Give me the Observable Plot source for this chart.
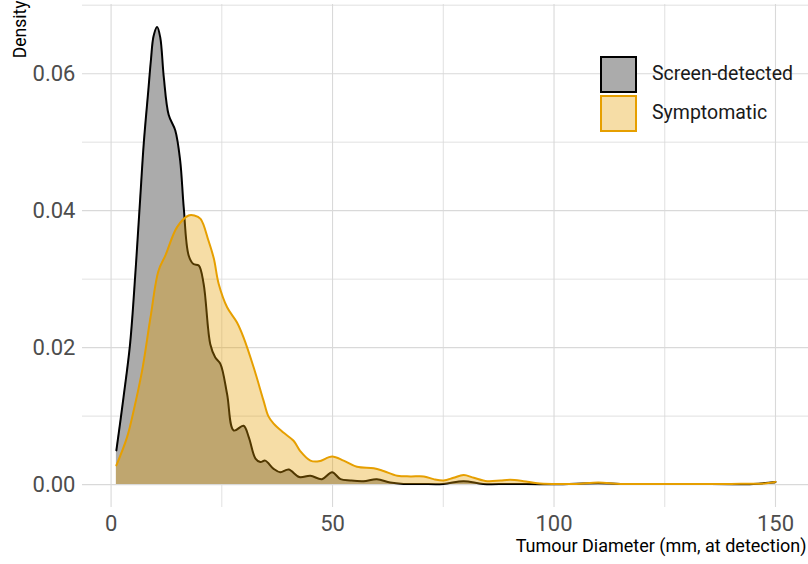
<!DOCTYPE html>
<html>
<head>
<meta charset="utf-8">
<script src="https://cdn.jsdelivr.net/npm/d3@7"></script>
<script src="https://cdn.jsdelivr.net/npm/@observablehq/plot@0.6"></script>
<style>
  body { margin: 0; background: #fff; }
  #wrap { position: relative; width: 808px; height: 564px; font-family: "Roboto", "DejaVu Sans Condensed", sans-serif; }
  .key { position: absolute; left: 600px; box-sizing: content-box; }
  .lab { position: absolute; left: 652px; font-size: 19.5px; color: #1a1a1a; line-height: 20px; }
</style>
</head>
<body>
<div id="wrap"></div>
<script>
const seriesNames = ["Screen-detected", "Symptomatic"];
// Screen-detected density: tumour diameter (mm) and density
const screenX = [1.2, 2.8, 4.3, 5.5, 6.5, 7.4, 8.4, 9.0, 9.6, 10.4, 11.1, 11.9, 13.0, 14.5, 15.6, 16.4, 17.5, 18.6, 19.8, 20.9, 22.4, 23.5, 24.7, 26.2, 27.7, 29.9, 31.1, 32.6, 33.7, 34.8, 36.7, 38.2, 40.1, 42.5, 45, 47.6, 49.9, 51.8, 54, 57, 60, 63, 66, 70, 75, 79.6, 84, 90, 100, 110, 115, 130, 145, 150];
const screenD = [0.0050, 0.0127, 0.0206, 0.0310, 0.0410, 0.0500, 0.0575, 0.0620, 0.0655, 0.0668, 0.0653, 0.0595, 0.0540, 0.0517, 0.0473, 0.0405, 0.0335, 0.0322, 0.0320, 0.0293, 0.0205, 0.0186, 0.0176, 0.0132, 0.0079, 0.0086, 0.0069, 0.0038, 0.0033, 0.0035, 0.0023, 0.0018, 0.0022, 0.0011, 0.0013, 0.0008, 0.0018, 0.0008, 0.0006, 0.0005, 0.0008, 0.0003, 0.0001, 0.0001, 0.0001, 0.0005, 0.0001, 0.0001, 0.00005, 0.0002, 0.0001, 0.0001, 0.0001, 0.0004];
// Symptomatic density
const sympX = [1.2, 3.6, 5.1, 7.0, 8.9, 10.7, 12.3, 14.9, 17.5, 18.8, 20.2, 22.0, 23.2, 24.3, 26.2, 28.4, 29.9, 32.2, 34.4, 35.5, 36.7, 38.9, 41.2, 42.7, 45, 46.9, 49.9, 52.5, 55.5, 59.3, 61.5, 64.6, 67.6, 70.6, 72.8, 75.1, 77.3, 79.6, 81.9, 84.9, 87.9, 90.1, 93.1, 96.2, 100, 105, 110, 115, 125, 140, 148, 150];
const sympD = [0.0028, 0.0069, 0.0108, 0.0166, 0.0244, 0.0312, 0.0335, 0.0376, 0.0393, 0.0393, 0.0388, 0.0356, 0.0330, 0.0293, 0.0259, 0.0237, 0.0215, 0.0171, 0.0123, 0.0100, 0.0089, 0.0076, 0.0064, 0.0049, 0.0035, 0.0034, 0.0041, 0.0035, 0.0026, 0.0024, 0.0020, 0.0013, 0.0012, 0.0012, 0.0008, 0.0006, 0.0010, 0.0014, 0.0010, 0.0005, 0.0006, 0.0007, 0.0005, 0.0002, 0.0001, 0.0001, 0.0003, 0.0001, 0.0001, 0.0001, 0.0002, 0.0004];

const xTicks = [0, 50, 100, 150];
const xMinor = [25, 75, 125];
const yTicks = [0, 0.02, 0.04, 0.06];
const yMinor = [0.01, 0.03, 0.05, 0.07];

const screen = screenX.map((x, i) => ({x, d: screenD[i]}));
const symp = sympX.map((x, i) => ({x, d: sympD[i]}));

const grid = "#d9d9d9";
const chart = Plot.plot({
  width: 808,
  height: 564,
  marginLeft: 82,
  marginRight: 0,
  marginTop: 4,
  marginBottom: 57,
  style: {fontFamily: "Roboto, 'DejaVu Sans Condensed', sans-serif", background: "#fff"},
  x: {domain: [-6.45, 157.45], label: null},
  y: {domain: [-0.00334, 0.0701], label: null},
  marks: [
    Plot.ruleX(xMinor, {stroke: grid, strokeWidth: 0.8}),
    Plot.ruleY(yMinor, {stroke: grid, strokeWidth: 0.8}),
    Plot.ruleX(xTicks, {stroke: grid, strokeWidth: 1.1}),
    Plot.ruleY(yTicks, {stroke: grid, strokeWidth: 1.1}),
    Plot.areaY(screen, {x: "x", y: "d", fill: "#ababab", curve: "catmull-rom"}),
    Plot.line(screen, {x: "x", y: "d", stroke: "#000", strokeWidth: 2, curve: "catmull-rom"}),
    Plot.areaY(symp, {x: "x", y: "d", fill: "#E69F00", fillOpacity: 0.35, curve: "catmull-rom"}),
    Plot.line(symp, {x: "x", y: "d", stroke: "#E69F00", strokeWidth: 2, curve: "catmull-rom"}),
    Plot.axisX(xTicks, {tickSize: 0, tickPadding: 8, fontSize: 22, fill: "#4d4d4d", label: null}),
    Plot.axisY(yTicks, {tickSize: 0, tickPadding: 7, fontSize: 22, fill: "#4d4d4d", tickFormat: ".2f", label: null}),
    Plot.text(["Density"], {frameAnchor: "top-left", rotate: -90, textAnchor: "end", dx: -69, dy: -4, fontSize: 17.5, fill: "#000"}),
    Plot.text(["Tumour Diameter (mm, at detection)"], {frameAnchor: "bottom-right", textAnchor: "end", dx: -2, dy: 44, fontSize: 18, fill: "#000"})
  ]
});
const wrap = document.getElementById("wrap");
wrap.appendChild(chart);

const keys = [
  {top: 56, fill: "#ababab", stroke: "#000"},
  {top: 95, fill: "rgba(230,159,0,0.35)", stroke: "#E69F00"}
];
keys.forEach((k, i) => {
  const box = document.createElement("div");
  box.className = "key";
  box.style.top = k.top + "px";
  box.style.background = k.fill;
  box.style.border = "2px solid " + k.stroke;
  box.style.width = "33px"; box.style.height = "33px";
  wrap.appendChild(box);
  const lab = document.createElement("div");
  lab.className = "lab";
  lab.textContent = seriesNames[i];
  lab.style.top = (k.top + 8) + "px";
  wrap.appendChild(lab);
});
</script>
</body>
</html>
